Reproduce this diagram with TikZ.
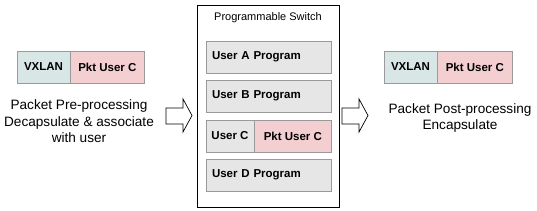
\documentclass[tikz,border=0pt]{standalone}
\usepackage{fontspec}
\setmainfont{Liberation Sans}
\usepackage{tikz}
\usetikzlibrary{positioning}

\definecolor{vxlanfill}{HTML}{D8E6E6}
\definecolor{pktfill}{HTML}{F4CFD2}
\definecolor{rowfill}{HTML}{E6E6E6}
\definecolor{edgegray}{HTML}{9A9A9A}

\tikzset{
  field/.style={draw=edgegray, minimum height=32pt, inner sep=0pt, font=\fontsize{11.5}{13}\selectfont\bfseries},
  vxlan/.style={field, fill=vxlanfill, minimum width=53pt},
  pkt/.style={field, fill=pktfill, minimum width=75pt},
  program/.style={field, fill=rowfill, text width=113pt, inner xsep=6pt, align=left},
  caption/.style={align=center, font=\fontsize{13.6}{16.5}\selectfont},
  blockarrow/.style={draw, fill=white, line width=0.7pt, line join=miter}
}

\begin{document}
\begin{tikzpicture}[x=1pt, y=-1pt]
    \useasboundingbox (0,0) rectangle (537,210);

    % Incoming packet
    \node[vxlan] (invx) at (43.5,67) {VXLAN};
    \node[pkt, minimum width=74pt, right=0pt of invx] (inpkt) {Pkt User C};
    \node[caption] (pre) at (79,121.5) {Packet Pre-processing\\Decapsulate \& associate\\with user};

    % Switch with the user programs
    \draw[thick] (197,5) rectangle (339,207);
    \node[font=\fontsize{11}{12}\selectfont] (title) at (268,18) {Programmable Switch};
    \node[program] (usera) at (268.5,57) {User A Program};
    \node[program] (userb) at (268.5,96) {User B Program};
    \node[field, fill=rowfill, minimum width=48pt] (userc) at (230,136) {User C};
    \node[pkt, minimum width=77pt, right=0pt of userc] (cpkt) {Pkt User C};
    \node[program] (userd) at (268.5,175) {User D Program};

    % Block arrows
    \draw[blockarrow] (166,108) -- (183,108) -- (183,99) -- (192,115.5)
        -- (183,132) -- (183,124) -- (166,124) -- cycle;
    \draw[blockarrow] (342,108) -- (359,108) -- (359,99) -- (368,115.5)
        -- (359,132) -- (359,124) -- (342,124) -- cycle;

    % Outgoing packet
    \node[vxlan] (outvx) at (410.5,67) {VXLAN};
    \node[pkt, right=0pt of outvx] (outpkt) {Pkt User C};
    \node[caption] (post) at (460,118) {Packet Post-processing\\Encapsulate};
\end{tikzpicture}
\end{document}
